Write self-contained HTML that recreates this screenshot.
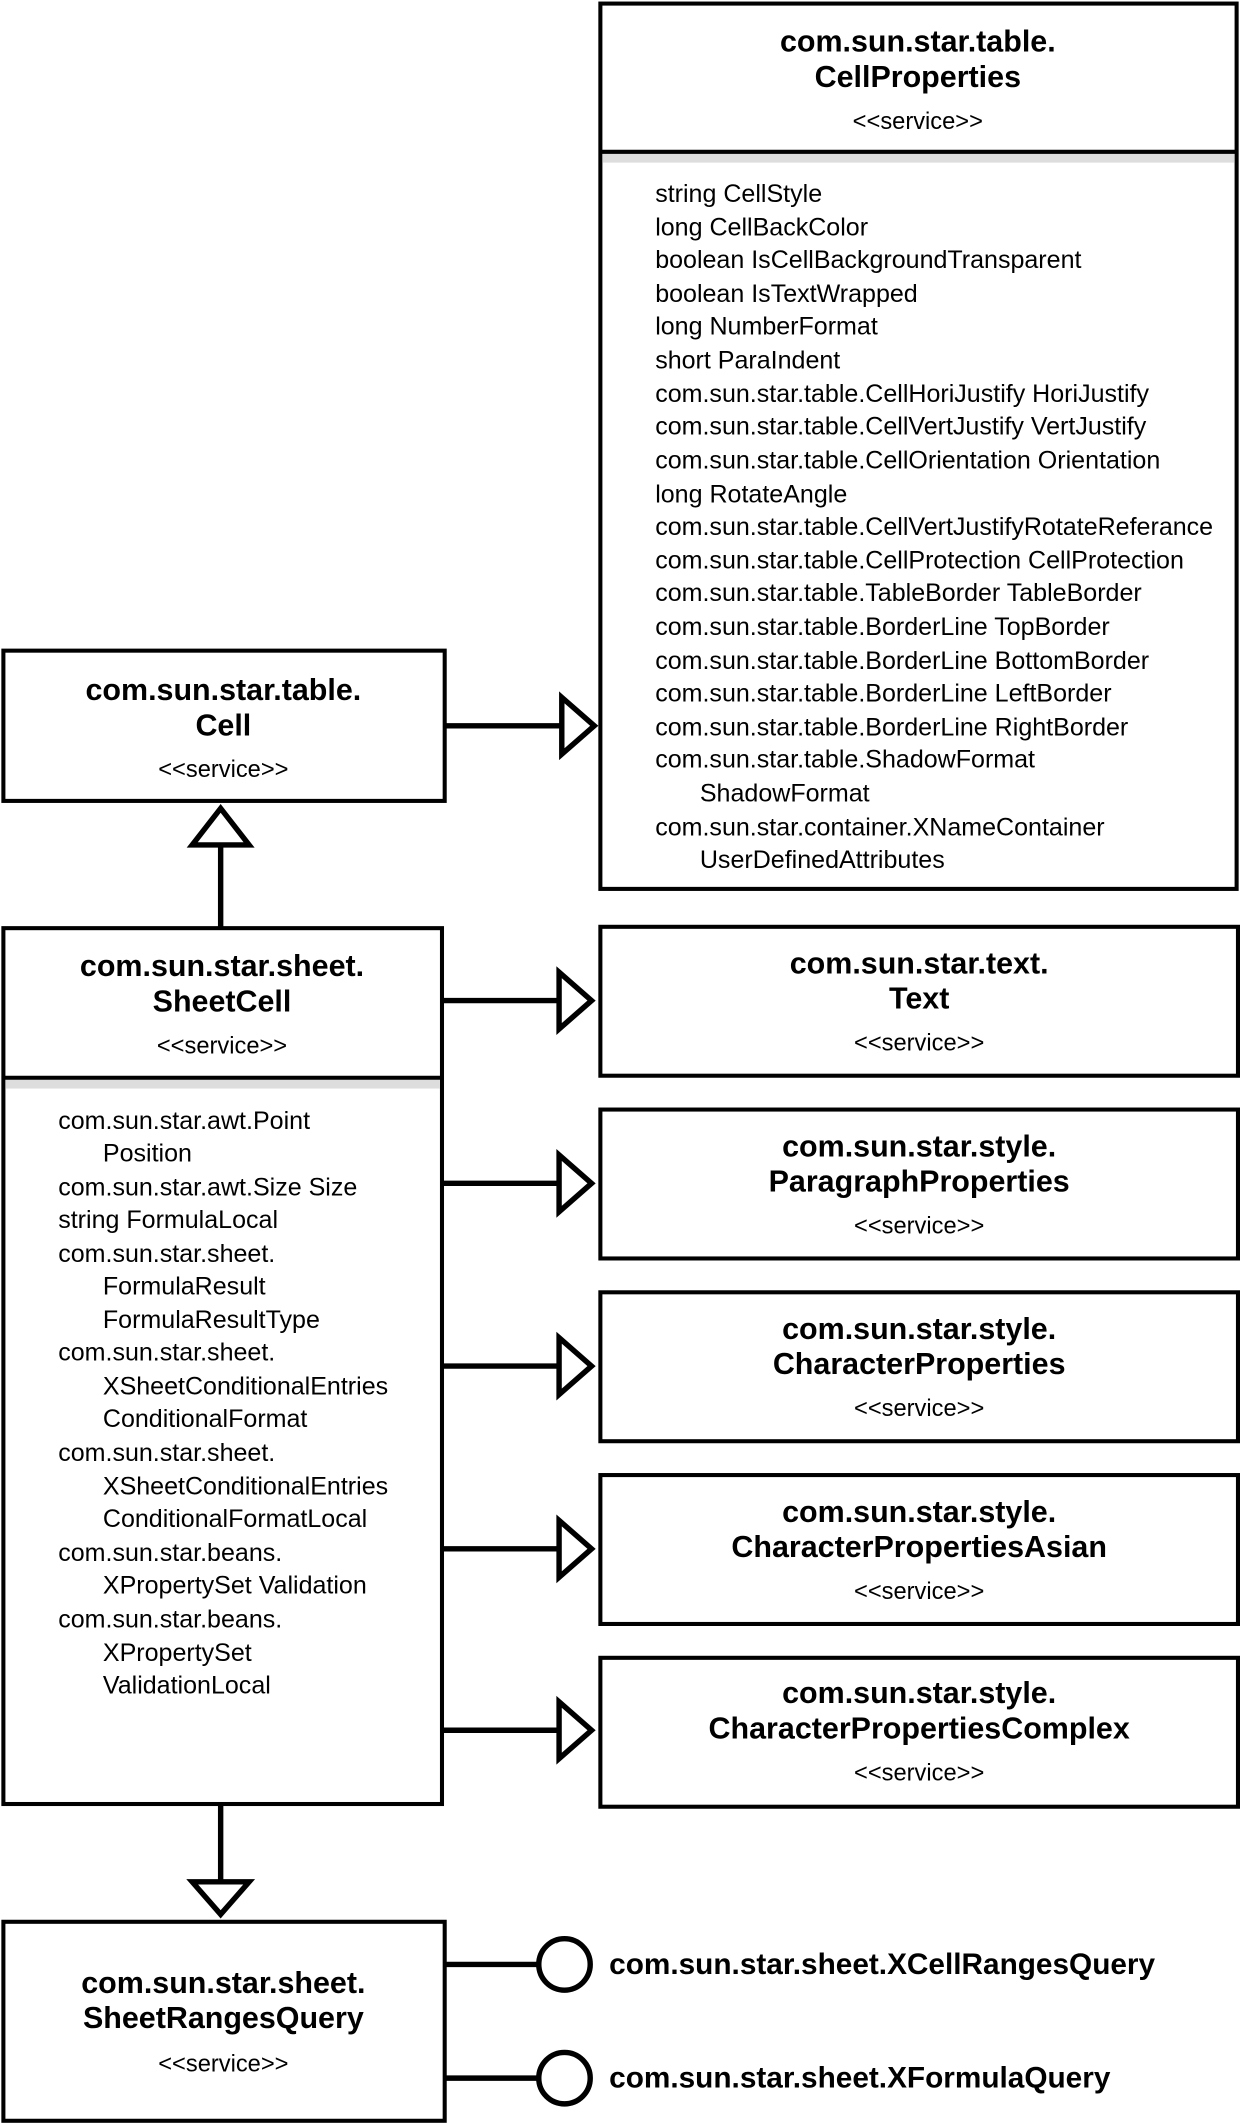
<!DOCTYPE html>
<html><head><meta charset="utf-8"><style>
html,body{margin:0;padding:0;background:#fff;}
svg{display:block}
.t{font-family:"Liberation Sans",sans-serif;font-weight:bold;font-size:22.5px;text-anchor:middle;fill:#000}
.s{font-family:"Liberation Sans",sans-serif;font-size:17.5px;text-anchor:middle;fill:#000}
.a{font-family:"Liberation Sans",sans-serif;font-size:18.5px;fill:#000}
.l{font-family:"Liberation Sans",sans-serif;font-weight:bold;font-size:22px;fill:#000}
</style></head><body>
<svg width="1240" height="2123" viewBox="0 0 916 1568" xmlns="http://www.w3.org/2000/svg">
<g fill="#fff" stroke="#000" stroke-width="3">
<rect x="443.5" y="2.5" width="470" height="654"/>
<rect x="2.5" y="480.5" width="326" height="111"/>
<rect x="2.5" y="685.5" width="324" height="647"/>
<rect x="443.5" y="684.5" width="471" height="110"/>
<rect x="443.5" y="819.5" width="471" height="110"/>
<rect x="443.5" y="954.5" width="471" height="110"/>
<rect x="443.5" y="1089.5" width="471" height="110"/>
<rect x="443.5" y="1224.5" width="471" height="110"/>
<rect x="2.5" y="1419.5" width="326" height="147"/>
</g>
<rect x="445" y="113" width="467" height="7" fill="#ddd"/>
<line x1="443" y1="112" x2="914" y2="112" stroke="#000" stroke-width="3"/>
<rect x="4" y="797" width="321" height="7" fill="#ddd"/>
<line x1="2" y1="796" x2="327" y2="796" stroke="#000" stroke-width="3"/>
<g stroke="#000" stroke-width="4" fill="#fff">
<line x1="329" y1="536" x2="415" y2="536"/><polygon points="415,515 439,536 415,557"/>
<line x1="163" y1="685" x2="163" y2="624"/><polygon points="142,624 163,597 184,624"/>
<line x1="327" y1="739" x2="413" y2="739"/><polygon points="413,718 437,739 413,760"/>
<line x1="327" y1="874" x2="413" y2="874"/><polygon points="413,853 437,874 413,895"/>
<line x1="327" y1="1009" x2="413" y2="1009"/><polygon points="413,988 437,1009 413,1030"/>
<line x1="327" y1="1144" x2="413" y2="1144"/><polygon points="413,1123 437,1144 413,1165"/>
<line x1="327" y1="1278" x2="413" y2="1278"/><polygon points="413,1257 437,1278 413,1299"/>
<line x1="163" y1="1333" x2="163" y2="1390"/><polygon points="142,1390 163,1414 184,1390"/>
<line x1="329" y1="1451" x2="397" y2="1451"/><circle cx="417" cy="1451" r="19"/>
<line x1="329" y1="1535" x2="397" y2="1535"/><circle cx="417" cy="1535" r="19"/>
</g>
<text class="t" x="678" y="38">com.sun.star.table.</text>
<text class="t" x="678" y="64">CellProperties</text>
<text class="s" x="678" y="95">&lt;&lt;service&gt;&gt;</text>
<g class="a">
<text x="484" y="149">string CellStyle</text>
<text x="484" y="174">long CellBackColor</text>
<text x="484" y="198">boolean IsCellBackgroundTransparent</text>
<text x="484" y="223">boolean IsTextWrapped</text>
<text x="484" y="247">long NumberFormat</text>
<text x="484" y="272">short ParaIndent</text>
<text x="484" y="297">com.sun.star.table.CellHoriJustify HoriJustify</text>
<text x="484" y="321">com.sun.star.table.CellVertJustify VertJustify</text>
<text x="484" y="346">com.sun.star.table.CellOrientation Orientation</text>
<text x="484" y="371">long RotateAngle</text>
<text x="484" y="395">com.sun.star.table.CellVertJustifyRotateReferance</text>
<text x="484" y="420">com.sun.star.table.CellProtection CellProtection</text>
<text x="484" y="444">com.sun.star.table.TableBorder TableBorder</text>
<text x="484" y="469">com.sun.star.table.BorderLine TopBorder</text>
<text x="484" y="494">com.sun.star.table.BorderLine BottomBorder</text>
<text x="484" y="518">com.sun.star.table.BorderLine LeftBorder</text>
<text x="484" y="543">com.sun.star.table.BorderLine RightBorder</text>
<text x="484" y="567">com.sun.star.table.ShadowFormat</text>
<text x="517" y="592">ShadowFormat</text>
<text x="484" y="617">com.sun.star.container.XNameContainer</text>
<text x="517" y="641">UserDefinedAttributes</text>
</g>
<text class="t" x="165" y="517">com.sun.star.table.</text>
<text class="t" x="165" y="543">Cell</text>
<text class="s" x="165" y="574">&lt;&lt;service&gt;&gt;</text>
<text class="t" x="164" y="721">com.sun.star.sheet.</text>
<text class="t" x="164" y="747">SheetCell</text>
<text class="s" x="164" y="778">&lt;&lt;service&gt;&gt;</text>
<g class="a">
<text x="43" y="834">com.sun.star.awt.Point</text>
<text x="76" y="858">Position</text>
<text x="43" y="883">com.sun.star.awt.Size Size</text>
<text x="43" y="907">string FormulaLocal</text>
<text x="43" y="932">com.sun.star.sheet.</text>
<text x="76" y="956">FormulaResult</text>
<text x="76" y="981">FormulaResultType</text>
<text x="43" y="1005">com.sun.star.sheet.</text>
<text x="76" y="1030">XSheetConditionalEntries</text>
<text x="76" y="1054">ConditionalFormat</text>
<text x="43" y="1079">com.sun.star.sheet.</text>
<text x="76" y="1104">XSheetConditionalEntries</text>
<text x="76" y="1128">ConditionalFormatLocal</text>
<text x="43" y="1153">com.sun.star.beans.</text>
<text x="76" y="1177">XPropertySet Validation</text>
<text x="43" y="1202">com.sun.star.beans.</text>
<text x="76" y="1227">XPropertySet</text>
<text x="76" y="1251">ValidationLocal</text>
</g>
<text class="t" x="679" y="719">com.sun.star.text.</text>
<text class="t" x="679" y="745">Text</text>
<text class="s" x="679" y="776">&lt;&lt;service&gt;&gt;</text>
<text class="t" x="679" y="854">com.sun.star.style.</text>
<text class="t" x="679" y="880">ParagraphProperties</text>
<text class="s" x="679" y="911">&lt;&lt;service&gt;&gt;</text>
<text class="t" x="679" y="989">com.sun.star.style.</text>
<text class="t" x="679" y="1015">CharacterProperties</text>
<text class="s" x="679" y="1046">&lt;&lt;service&gt;&gt;</text>
<text class="t" x="679" y="1124">com.sun.star.style.</text>
<text class="t" x="679" y="1150">CharacterPropertiesAsian</text>
<text class="s" x="679" y="1181">&lt;&lt;service&gt;&gt;</text>
<text class="t" x="679" y="1258">com.sun.star.style.</text>
<text class="t" x="679" y="1284">CharacterPropertiesComplex</text>
<text class="s" x="679" y="1315">&lt;&lt;service&gt;&gt;</text>
<text class="t" x="165" y="1472">com.sun.star.sheet.</text>
<text class="t" x="165" y="1498">SheetRangesQuery</text>
<text class="s" x="165" y="1530">&lt;&lt;service&gt;&gt;</text>
<text class="l" x="450" y="1458">com.sun.star.sheet.XCellRangesQuery</text>
<text class="l" x="450" y="1542">com.sun.star.sheet.XFormulaQuery</text>
</svg>
</body></html>
